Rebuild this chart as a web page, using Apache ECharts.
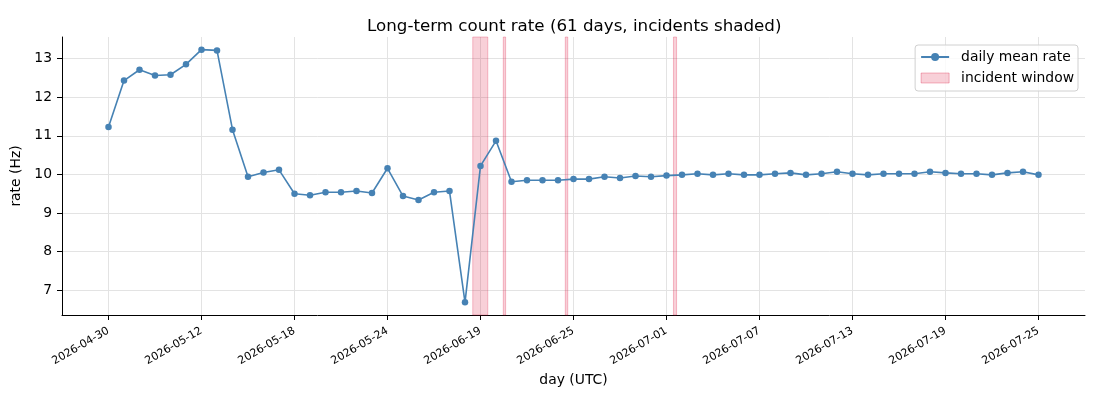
<!DOCTYPE html>
<html>
<head>
<meta charset="utf-8">
<script src="https://cdn.jsdelivr.net/npm/echarts@6/dist/echarts.min.js"></script>
<style>
html, body { margin: 0; padding: 0; background: #fff; }
#chart { width: 1100px; height: 400px; }
</style>
</head>
<body>
<div id="chart"></div>
<script>
// day labels (category per sample, plotted by index)
var days = [
    '2026-04-30', '2026-05-02', '2026-05-04', '2026-05-06', '2026-05-08', '2026-05-10',
    '2026-05-12', '2026-05-13', '2026-05-14', '2026-05-15', '2026-05-16', '2026-05-17',
    '2026-05-18', '2026-05-19', '2026-05-20', '2026-05-21', '2026-05-22', '2026-05-23',
    '2026-05-24', '2026-05-25', '2026-05-26', '2026-05-27', '2026-05-28', '2026-06-18',
    '2026-06-19', '2026-06-20', '2026-06-21', '2026-06-22', '2026-06-23', '2026-06-24',
    '2026-06-25', '2026-06-26', '2026-06-27', '2026-06-28', '2026-06-29', '2026-06-30',
    '2026-07-01', '2026-07-02', '2026-07-03', '2026-07-04', '2026-07-05', '2026-07-06',
    '2026-07-07', '2026-07-08', '2026-07-09', '2026-07-10', '2026-07-11', '2026-07-12',
    '2026-07-13', '2026-07-14', '2026-07-15', '2026-07-16', '2026-07-17', '2026-07-18',
    '2026-07-19', '2026-07-20', '2026-07-21', '2026-07-22', '2026-07-23', '2026-07-24',
    '2026-07-25'
];
// daily mean rate (Hz)
var rate = [
    11.23, 12.43, 12.71, 12.56, 12.58, 12.85, 13.23, 13.21, 11.16, 9.94,
    10.05, 10.12, 9.50, 9.46, 9.54, 9.54, 9.57, 9.52, 10.16, 9.44,
    9.34, 9.54, 9.57, 6.69, 10.22, 10.87, 9.81, 9.85, 9.85, 9.85,
    9.88, 9.88, 9.94, 9.91, 9.96, 9.94, 9.97, 9.99, 10.02, 9.99,
    10.02, 9.99, 9.99, 10.02, 10.04, 9.99, 10.02, 10.07, 10.02, 9.99,
    10.02, 10.02, 10.02, 10.07, 10.04, 10.02, 10.02, 9.99, 10.04, 10.07,
    9.99
];
// incident windows, in sample index units
var incStart = [23.5, 25.47, 29.47, 36.45];
var incEnd = [24.47, 25.62, 29.63, 36.65];
// tick positions
var xTickIdx = [0, 6, 12, 18, 24, 30, 36, 42, 48, 54, 60];
var yTicks = [7, 8, 9, 10, 11, 12, 13];

var FONT = 'DejaVu Sans';
var pink = 'rgba(220,20,60,0.2)';
var pinkEdge = 'rgba(220,20,60,0.26)';

var chart = echarts.init(document.getElementById('chart'));

var pts = rate.map(function (v, i) { return [i, v]; });
var areas = incStart.map(function (s, i) {
    return [{ xAxis: s }, { xAxis: incEnd[i] }];
});

var option = {
    animation: false,
    backgroundColor: '#fff',
    title: {
        text: 'Long-term count rate (61 days, incidents shaded)',
        left: 362,
        top: 13,
        textStyle: { fontFamily: FONT, fontSize: 16.7, fontWeight: 'normal', color: '#000' }
    },
    legend: {
        orient: 'vertical',
        right: 22,
        top: 45,
        padding: [5, 4, 6, 5],
        itemGap: 7,
        itemWidth: 28,
        itemHeight: 10,
        borderColor: '#d0d0d0',
        borderWidth: 1,
        borderRadius: 3,
        backgroundColor: 'rgba(255,255,255,0.8)',
        textStyle: { fontFamily: FONT, fontSize: 13.9, color: '#000', padding: [0, 0, 0, 7] },
        data: [
            { name: 'daily mean rate' },
            { name: 'incident window', icon: 'rect',
              itemStyle: { color: pink, borderColor: 'rgba(220,20,60,0.3)', borderWidth: 1 } }
        ]
    },
    grid: { left: 62, right: 15, top: 37, bottom: 85 },
    xAxis: {
        type: 'value',
        min: -3,
        max: 63,
        name: 'day (UTC)',
        nameLocation: 'middle',
        nameGap: 55,
        nameTextStyle: { fontFamily: FONT, fontSize: 13.9, color: '#000' },
        axisLine: { show: true, onZero: false, lineStyle: { color: '#000', width: 1 } },
        axisTick: { show: true, length: 5, customValues: xTickIdx, lineStyle: { color: '#000' } },
        axisLabel: {
            customValues: xTickIdx,
            rotate: 30,
            margin: 15,
            fontFamily: FONT,
            fontSize: 11,
            color: '#000',
            formatter: function (v) { return days[Math.round(v)] || ''; }
        },
        splitLine: { show: true, lineStyle: { color: '#e3e3e3', width: 1 } }
    },
    yAxis: {
        type: 'value',
        min: 6.363,
        max: 13.557,
        name: 'rate (Hz)',
        nameLocation: 'middle',
        nameGap: 30,
        nameTextStyle: { fontFamily: FONT, fontSize: 13.9, color: '#000' },
        axisLine: { show: true, onZero: false, lineStyle: { color: '#000', width: 1 } },
        axisTick: { show: true, length: 5, customValues: yTicks, lineStyle: { color: '#000' } },
        axisLabel: {
            customValues: yTicks,
            margin: 10,
            fontFamily: FONT,
            fontSize: 13.9,
            color: '#000'
        },
        splitLine: { show: true, lineStyle: { color: '#e3e3e3', width: 1 } }
    },
    series: [
        {
            name: 'incident window',
            type: 'line',
            data: [],
            itemStyle: { color: pink },
            markArea: {
                silent: true,
                itemStyle: { color: pink, borderColor: pinkEdge, borderWidth: 1 },
                data: areas
            }
        },
        {
            name: 'daily mean rate',
            type: 'line',
            data: pts,
            clip: false,
            z: 5,
            symbol: 'circle',
            symbolSize: 6.5,
            showAllSymbol: true,
            lineStyle: { color: '#4682b4', width: 1.6 },
            itemStyle: { color: '#4682b4' }
        }
    ]
};
chart.setOption(option);
</script>
</body>
</html>
